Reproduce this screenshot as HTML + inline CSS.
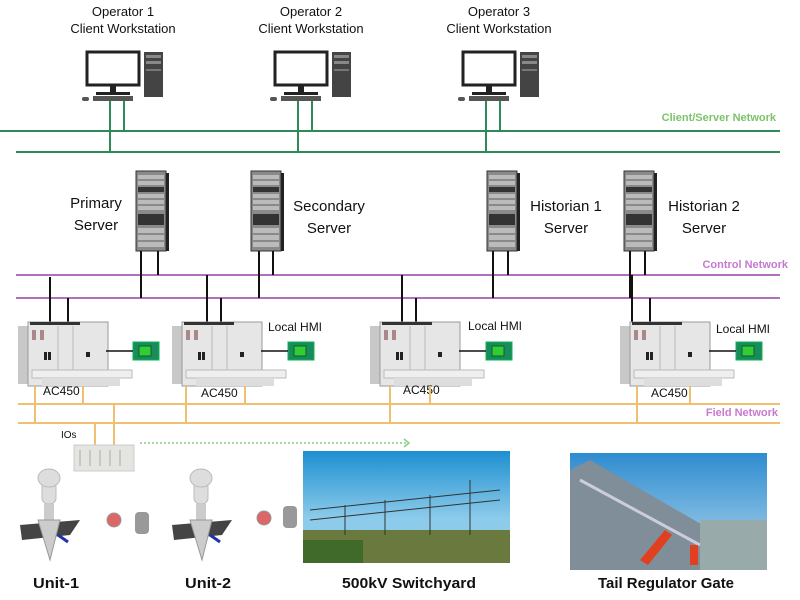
<!DOCTYPE html>
<html><head><meta charset="utf-8"><style>
body{margin:0;background:#fff}
svg{display:block}
text{font-family:"Liberation Sans",sans-serif;fill:#111}
</style></head><body>
<svg width="800" height="600" viewBox="0 0 800 600" xmlns="http://www.w3.org/2000/svg">
<defs>
<g id="ws">
  <rect x="0" y="0" width="52" height="33" fill="#fff" stroke="#222" stroke-width="3"/>
  <rect x="23" y="33" width="6" height="7" fill="#222"/>
  <rect x="9" y="40" width="34" height="3" fill="#222"/>
  <rect x="6" y="44" width="40" height="5" fill="#555"/>
  <rect x="-5" y="45" width="7" height="4" rx="2" fill="#555"/>
  <rect x="57" y="0" width="19" height="45" fill="#444"/>
  <rect x="59" y="3" width="15" height="3" fill="#888"/>
  <rect x="59" y="9" width="15" height="3" fill="#888"/>
  <rect x="59" y="17" width="15" height="2" fill="#777"/>
</g>
<g id="srv">
  <rect x="0" y="0" width="30" height="80" fill="#8a8a8a" stroke="#333"/>
  <rect x="30" y="2" width="3" height="78" fill="#222"/>
  <rect x="2" y="4" width="26" height="4" fill="#bbb"/>
  <rect x="2" y="10" width="26" height="4" fill="#bbb"/>
  <rect x="2" y="16" width="26" height="5" fill="#333"/>
  <rect x="2" y="23" width="26" height="4" fill="#bbb"/>
  <rect x="2" y="29" width="26" height="4" fill="#bbb"/>
  <rect x="2" y="35" width="26" height="4" fill="#bbb"/>
  <rect x="2" y="43" width="26" height="11" fill="#333"/>
  <rect x="2" y="57" width="26" height="5" fill="#bbb"/>
  <rect x="2" y="64" width="26" height="5" fill="#bbb"/>
  <rect x="2" y="71" width="26" height="5" fill="#bbb"/>
</g>
<g id="ac">
  <rect x="0" y="4" width="10" height="58" fill="#c8c8c8"/>
  <rect x="10" y="0" width="80" height="64" fill="#e6e6e6" stroke="#999"/>
  <rect x="12" y="0" width="50" height="3" fill="#333"/>
  <rect x="14" y="8" width="4" height="10" fill="#a88"/>
  <rect x="22" y="8" width="4" height="10" fill="#a88"/>
  <rect x="26" y="30" width="3" height="8" fill="#222"/>
  <rect x="30" y="30" width="3" height="8" fill="#222"/>
  <line x1="40" y1="4" x2="40" y2="50" stroke="#bbb"/>
  <line x1="55" y1="4" x2="55" y2="50" stroke="#bbb"/>
  <rect x="68" y="30" width="4" height="5" fill="#222"/>
  <rect x="14" y="48" width="100" height="8" fill="#efefef" stroke="#bbb"/>
  <rect x="24" y="56" width="78" height="8" fill="#ddd"/>
</g>
<g id="hmi">
  <rect x="0" y="0" width="26" height="18" fill="#1c8a5a" stroke="#0b5"/>
  <rect x="6" y="4" width="12" height="10" fill="#3c3" stroke="#063"/>
</g>
</defs>

<g font-size="13" text-anchor="middle">
<text x="123" y="16">Operator 1</text><text x="123" y="33">Client Workstation</text>
<text x="311" y="16">Operator 2</text><text x="311" y="33">Client Workstation</text>
<text x="499" y="16">Operator 3</text><text x="499" y="33">Client Workstation</text>
</g>
<use href="#ws" x="87" y="52"/>
<use href="#ws" x="275" y="52"/>
<use href="#ws" x="463" y="52"/>

<g stroke="#2e8b57" stroke-width="2">
<line x1="0" y1="131" x2="780" y2="131"/>
<line x1="16" y1="152" x2="780" y2="152"/>
<line x1="110" y1="101" x2="110" y2="152"/><line x1="124" y1="101" x2="124" y2="131"/>
<line x1="298" y1="101" x2="298" y2="152"/><line x1="312" y1="101" x2="312" y2="131"/>
<line x1="486" y1="101" x2="486" y2="152"/><line x1="500" y1="101" x2="500" y2="131"/>
</g>
<text x="776" y="121" font-size="11" style="fill:#7cc36a" font-weight="bold" text-anchor="end">Client/Server Network</text>

<use href="#srv" x="136" y="171"/>
<use href="#srv" x="251" y="171"/>
<use href="#srv" x="487" y="171"/>
<use href="#srv" x="624" y="171"/>
<g font-size="15" text-anchor="middle">
<text x="96" y="208">Primary</text><text x="96" y="230">Server</text>
<text x="329" y="211">Secondary</text><text x="329" y="233">Server</text>
<text x="566" y="211">Historian 1</text><text x="566" y="233">Server</text>
<text x="704" y="211">Historian 2</text><text x="704" y="233">Server</text>
</g>

<g stroke="#b070c0" stroke-width="2">
<line x1="16" y1="275" x2="780" y2="275"/>
<line x1="16" y1="298" x2="780" y2="298"/>
</g>
<text x="788" y="268" font-size="11" style="fill:#c779d0" font-weight="bold" text-anchor="end">Control Network</text>
<g stroke="#111" stroke-width="2">
<line x1="141" y1="251" x2="141" y2="298"/><line x1="158" y1="251" x2="158" y2="275"/>
<line x1="259" y1="251" x2="259" y2="298"/><line x1="273" y1="251" x2="273" y2="275"/>
<line x1="493" y1="251" x2="493" y2="298"/><line x1="508" y1="251" x2="508" y2="275"/>
<line x1="630" y1="251" x2="630" y2="298"/><line x1="645" y1="251" x2="645" y2="275"/>
<line x1="50" y1="277" x2="50" y2="322"/><line x1="68" y1="298" x2="68" y2="322"/>
<line x1="207" y1="275" x2="207" y2="322"/><line x1="221" y1="298" x2="221" y2="322"/>
<line x1="402" y1="275" x2="402" y2="322"/><line x1="416" y1="298" x2="416" y2="322"/>
<line x1="632" y1="275" x2="632" y2="322"/><line x1="650" y1="298" x2="650" y2="322"/>
</g>

<use href="#ac" x="18" y="322"/>
<use href="#ac" x="172" y="322"/>
<use href="#ac" x="370" y="322"/>
<use href="#ac" x="620" y="322"/>
<use href="#hmi" x="133" y="342"/>
<use href="#hmi" x="288" y="342"/>
<use href="#hmi" x="486" y="342"/>
<use href="#hmi" x="736" y="342"/>
<g stroke="#111" stroke-width="1.5">
<line x1="106" y1="351" x2="133" y2="351"/><line x1="261" y1="351" x2="288" y2="351"/>
<line x1="459" y1="351" x2="486" y2="351"/><line x1="709" y1="351" x2="736" y2="351"/>
</g>
<g font-size="12">
<text x="268" y="331">Local HMI</text><text x="468" y="330">Local HMI</text><text x="716" y="333">Local HMI</text>
<text x="43" y="395">AC450</text><text x="201" y="397">AC450</text><text x="403" y="394">AC450</text><text x="651" y="397">AC450</text>
</g>

<g stroke="#f0c070" stroke-width="2">
<line x1="18" y1="404" x2="780" y2="404"/>
<line x1="18" y1="423" x2="780" y2="423"/>
<line x1="35" y1="386" x2="35" y2="423"/><line x1="83" y1="386" x2="83" y2="404"/>
<line x1="186" y1="386" x2="186" y2="423"/><line x1="245" y1="386" x2="245" y2="404"/>
<line x1="390" y1="386" x2="390" y2="423"/><line x1="430" y1="386" x2="430" y2="404"/>
<line x1="637" y1="386" x2="637" y2="423"/><line x1="690" y1="386" x2="690" y2="404"/>
<line x1="95" y1="423" x2="95" y2="445"/><line x1="114" y1="404" x2="114" y2="445"/>
</g>
<text x="778" y="416" font-size="11" style="fill:#c779d0" font-weight="bold" text-anchor="end">Field Network</text>
<text x="61" y="438" font-size="10">IOs</text>
<rect x="74" y="445" width="60" height="26" fill="#e4e4e0" stroke="#ccc"/>
<g stroke="#aaa"><line x1="80" y1="450" x2="80" y2="466"/><line x1="90" y1="450" x2="90" y2="466"/><line x1="100" y1="450" x2="100" y2="466"/><line x1="110" y1="450" x2="110" y2="466"/><line x1="120" y1="450" x2="120" y2="466"/></g>
<line x1="140" y1="443" x2="408" y2="443" stroke="#8c8" stroke-width="1.5" stroke-dasharray="2,2"/>
<path d="M404 439 L409 443 L404 447" fill="none" stroke="#8c8" stroke-width="1.5"/>

<g id="tb">
<rect x="42" y="474" width="14" height="30" rx="6" fill="#ddd" stroke="#bbb"/>
<ellipse cx="49" cy="478" rx="11" ry="9" fill="#ddd" stroke="#bbb"/>
<rect x="44" y="504" width="10" height="18" fill="#ccc"/>
<path d="M20 525 L80 520 L70 535 L22 540 Z" fill="#444"/>
<path d="M38 520 L60 520 L50 560 Z" fill="#ccc" stroke="#999"/>
<line x1="58" y1="535" x2="68" y2="542" stroke="#23a" stroke-width="3"/>
</g>
<use href="#tb" x="152" y="0"/>
<circle cx="114" cy="520" r="7" fill="#d66" stroke="#999"/>
<rect x="135" y="512" width="14" height="22" rx="4" fill="#999"/>
<circle cx="264" cy="518" r="7" fill="#d66" stroke="#999"/>
<rect x="283" y="506" width="14" height="22" rx="4" fill="#999"/>

<defs>
<linearGradient id="sky" x1="0" y1="0" x2="0" y2="1"><stop offset="0" stop-color="#1d8fd0"/><stop offset="0.6" stop-color="#8ccbea"/></linearGradient>
<linearGradient id="sky2" x1="0" y1="0" x2="0" y2="1"><stop offset="0" stop-color="#2e8ccf"/><stop offset="1" stop-color="#b6daf0"/></linearGradient>
</defs>
<rect x="303" y="451" width="207" height="112" fill="url(#sky)"/>
<rect x="303" y="530" width="207" height="33" fill="#6a7a3e"/>
<rect x="303" y="540" width="60" height="23" fill="#3f6a2a"/>
<g stroke="#333" stroke-width="1" fill="none">
<path d="M310 510 L500 490"/><path d="M310 520 L500 500"/>
<line x1="345" y1="505" x2="345" y2="535"/><line x1="385" y1="500" x2="385" y2="535"/><line x1="430" y1="495" x2="430" y2="535"/><line x1="470" y1="480" x2="470" y2="535"/>
</g>

<rect x="570" y="453" width="197" height="117" fill="url(#sky2)"/>
<path d="M570 470 L590 460 L720 535 L720 570 L570 570 Z" fill="#7f8e99"/>
<path d="M580 480 L700 545" stroke="#ccd" stroke-width="3"/>
<rect x="700" y="520" width="67" height="50" fill="#9aa"/>
<path d="M640 560 L665 530 L672 535 L648 565 Z" fill="#e04020"/>
<rect x="690" y="545" width="8" height="20" fill="#e04020"/>

<g font-size="15" font-weight="bold" text-anchor="middle">
<text x="56" y="588" textLength="46" lengthAdjust="spacingAndGlyphs">Unit-1</text>
<text x="208" y="588" textLength="46" lengthAdjust="spacingAndGlyphs">Unit-2</text>
<text x="409" y="588" textLength="134" lengthAdjust="spacingAndGlyphs">500kV Switchyard</text>
<text x="666" y="588" textLength="136" lengthAdjust="spacingAndGlyphs">Tail Regulator Gate</text>
</g>
</svg>
</body></html>
